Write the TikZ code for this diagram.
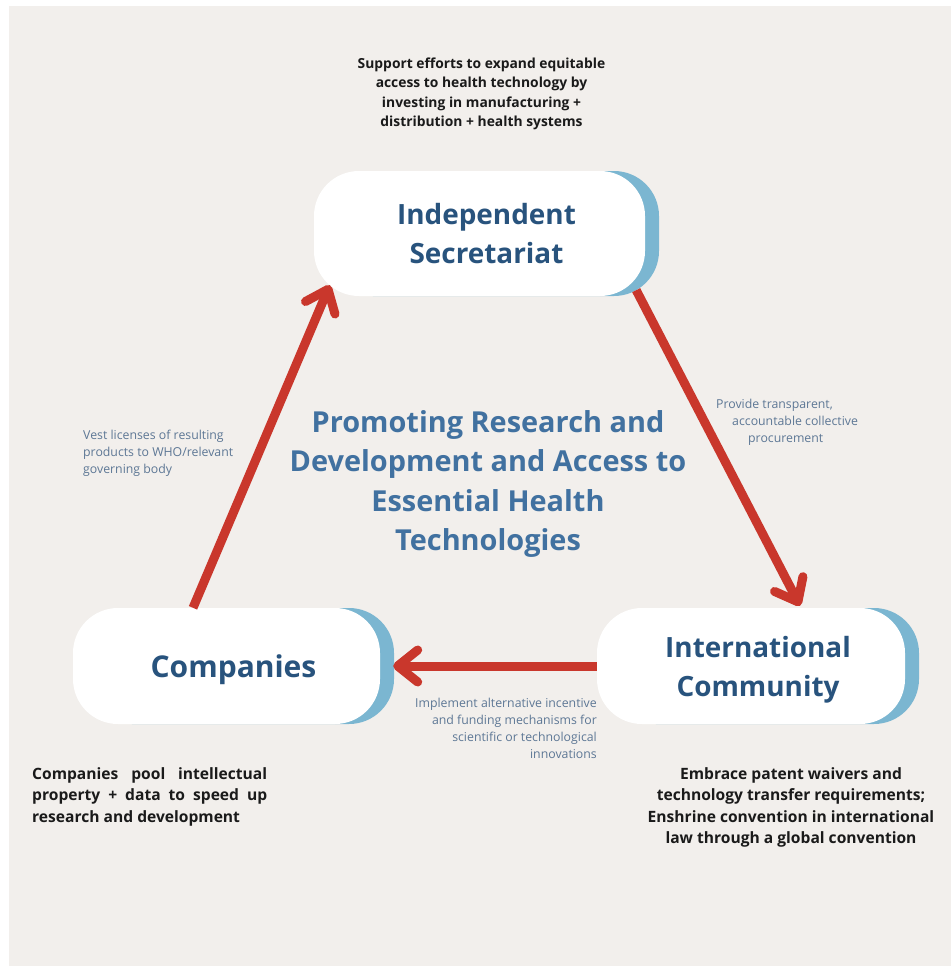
\documentclass[tikz,border=0pt]{standalone}
\usepackage{fontspec}
\setmainfont{Open Sans}
\usetikzlibrary{arrows.meta,calc,shadows}
\definecolor{paper}{HTML}{F2EFEC}
\definecolor{sideblue}{HTML}{7BB6D1}
\definecolor{navy}{HTML}{28537D}
\definecolor{titleblue}{HTML}{4171A0}
\definecolor{slate}{HTML}{5D7795}
\definecolor{arrowred}{HTML}{C9372C}
\definecolor{ink}{HTML}{1A1A1A}

\begin{document}
\begin{tikzpicture}[x=1pt, y=-1pt,
    box/.style={rounded corners=45pt, align=center, text=navy, text depth=0pt,
                font=\fontsize{27.9}{39}\selectfont\bfseries,
                general shadow={fill=sideblue, shadow xshift=7pt},
                general shadow={fill=white, shadow xshift=-7pt}},
    flow/.style={draw=arrowred, line width=9pt, -{Straight Barb[round, length=20pt, width=32pt]}},
    note/.style={text=slate, font=\fontsize{12.3}{17}\selectfont, inner sep=0pt},
    claim/.style={text=ink, font=\fontsize{15.6}{21.5}\selectfont\bfseries, inner sep=0pt}]
    \useasboundingbox (0,0) rectangle (951,966);
    \fill[white] (0,0) rectangle (951,966);
    \fill[paper] (9,6) rectangle (951,966);

    \node[box, minimum width=331pt, minimum height=125pt] (sec) at (486.5,233.5) {Independent\\Secretariat};
    \node[box, minimum width=307pt, minimum height=116pt, font=\fontsize{30}{39}\selectfont\bfseries] (comp) at (233.5,666) {Companies};
    \node[box, minimum width=308pt, minimum height=116pt] (intl) at (758,666) {International\\Community};

    \node[align=center, text=titleblue, inner sep=0pt,
          font=\fontsize{28.9}{39.3}\selectfont\bfseries] (title) at (488,484)
      {Promoting Research and\\Development and Access to\\Essential Health\\Technologies};

    \node[claim, align=center, anchor=north, font=\fontsize{13.85}{19.2}\selectfont\bfseries] (goal) at (481.5,58)
      {Support efforts to expand equitable\\access to health technology by\\investing in manufacturing +\\distribution + health systems};
    \node[claim, align=justify, text width=235pt, anchor=north west] (pool) at (32,767)
      {Companies pool intellectual property + data to speed up research and development};
    \node[claim, align=center, anchor=north] (waive) at (791,767)
      {Embrace patent waivers and\\technology transfer requirements;\\Enshrine convention in international\\law through a global convention};

    \draw[flow] ($(comp.north)+(-40.5,0)$) -- ($(sec.south west)+(9,-11)$);
    \draw[flow] ($(sec.south east)+(-16,-6)$) -- ($(intl.north)+(42,-2)$);
    \draw[flow] ($(intl.west)+(-7,0)$) -- ($(comp.east)+(6,0)$);

    \node[note, align=left, anchor=north west] (vest) at (83,430)
      {Vest licenses of resulting\\products to WHO/relevant\\governing body};
    \node[note, align=left, anchor=north west] (procure) at (716,399)
      {Provide transparent,\\\hspace*{16pt}accountable collective\\\hspace*{32pt}procurement};
    \node[note, align=right, anchor=north east] (fund) at (597,698)
      {Implement alternative incentive\\and funding mechanisms for\\scientific or technological\\innovations};
\end{tikzpicture}
\end{document}
